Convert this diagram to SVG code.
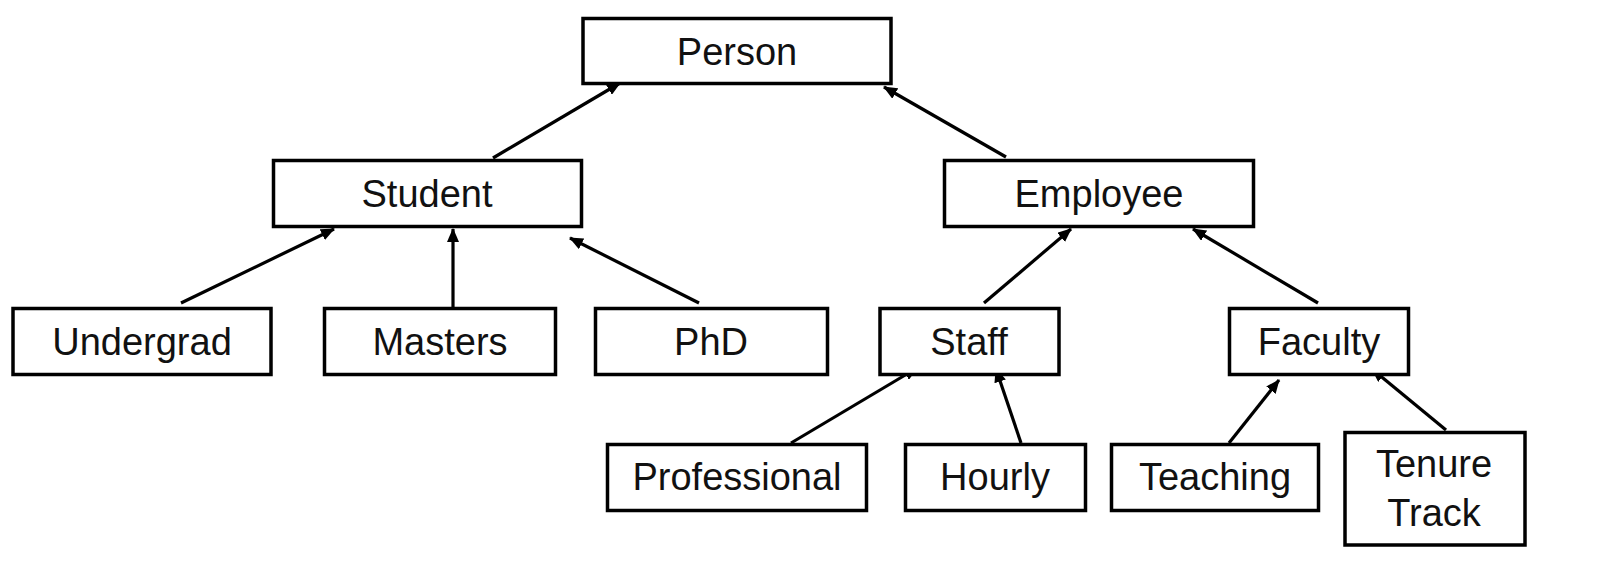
<svg xmlns="http://www.w3.org/2000/svg" width="1600" height="562" viewBox="0 0 1600 562">
<style>
.box{fill:#fff;stroke:#000;stroke-width:3.5}
.lbl{font-family:"Liberation Sans",Arial,sans-serif;font-size:38px;fill:#111;text-anchor:middle}
.edge{stroke:#000;stroke-width:3.2;fill:none;marker-end:url(#ah)}
</style>
<defs>
<marker id="ah" markerUnits="userSpaceOnUse" markerWidth="14" markerHeight="12" viewBox="0 0 14 12" refX="13" refY="6" orient="auto">
<path d="M0,0 L14,6 L0,12 z" fill="#000"/>
</marker>
</defs>
<rect width="1600" height="562" fill="#fff"/>
<g id="connectors">
<line class="edge" x1="493" y1="158" x2="620" y2="83"/>
<line class="edge" x1="1006" y1="157" x2="884" y2="87"/>
<line class="edge" x1="181" y1="303" x2="334" y2="229"/>
<line class="edge" x1="453" y1="315" x2="453" y2="229"/>
<line class="edge" x1="699" y1="303" x2="570" y2="238"/>
<line class="edge" x1="984" y1="303" x2="1071" y2="229"/>
<line class="edge" x1="1318" y1="303" x2="1193" y2="229"/>
<line class="edge" x1="791" y1="443" x2="917" y2="368"/>
<line class="edge" x1="1021" y1="443" x2="996" y2="369"/>
<line class="edge" x1="1229" y1="443" x2="1279" y2="380"/>
<line class="edge" x1="1446" y1="430" x2="1372" y2="369"/>
</g>
<g id="person"><rect class="box" x="583" y="18.5" width="308" height="65"/><text class="lbl" x="737" y="65">Person</text></g>
<g id="student"><rect class="box" x="273.5" y="160.5" width="308" height="66"/><text class="lbl" x="427" y="207">Student</text></g>
<g id="employee"><rect class="box" x="944.5" y="160.5" width="309" height="66"/><text class="lbl" x="1099" y="207">Employee</text></g>
<g id="undergrad"><rect class="box" x="13" y="308.5" width="258" height="66"/><text class="lbl" x="142" y="355">Undergrad</text></g>
<g id="masters"><rect class="box" x="324.5" y="308.5" width="231" height="66"/><text class="lbl" x="440" y="355">Masters</text></g>
<g id="phd"><rect class="box" x="595.5" y="308.5" width="232" height="66"/><text class="lbl" x="711" y="355">PhD</text></g>
<g id="staff"><rect class="box" x="880" y="308.5" width="179" height="66"/><text class="lbl" x="969" y="355">Staff</text></g>
<g id="faculty"><rect class="box" x="1229.5" y="308.5" width="179" height="66"/><text class="lbl" x="1319" y="355">Faculty</text></g>
<g id="professional"><rect class="box" x="607.5" y="444.5" width="259" height="66"/><text class="lbl" x="737" y="490">Professional</text></g>
<g id="hourly"><rect class="box" x="905.5" y="444.5" width="180" height="66"/><text class="lbl" x="995" y="490">Hourly</text></g>
<g id="teaching"><rect class="box" x="1111.5" y="444.5" width="207" height="66"/><text class="lbl" x="1215" y="490">Teaching</text></g>
<g id="tenure-track"><rect class="box" x="1345" y="432.5" width="180" height="112.5"/><text class="lbl" x="1434" y="477">Tenure</text><text class="lbl" x="1434" y="526">Track</text></g>
</svg>
